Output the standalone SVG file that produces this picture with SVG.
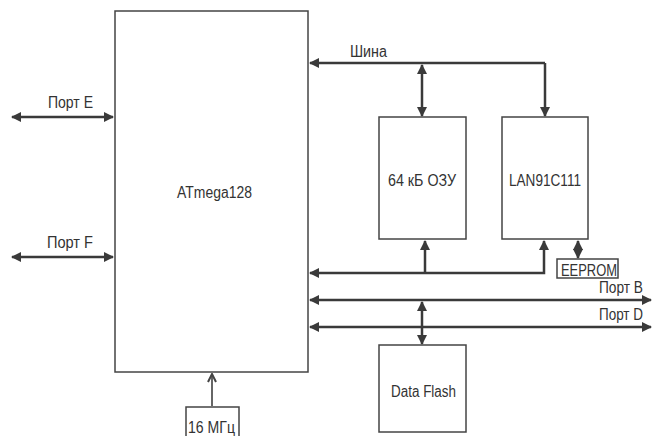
<svg xmlns="http://www.w3.org/2000/svg" width="653" height="436" viewBox="0 0 653 436">
<defs>
<marker id="ah" viewBox="0 0 10 10" refX="9" refY="5" markerWidth="4.2" markerHeight="4" orient="auto-start-reverse" markerUnits="strokeWidth">
<path d="M0,0 L10,5 L0,10 Z" fill="#3a3a3a"/>
</marker>
<marker id="oh" viewBox="0 0 10 10" refX="9" refY="5" markerWidth="10" markerHeight="10" orient="auto" markerUnits="userSpaceOnUse">
<path d="M1,1 L9,5 L1,9" fill="none" stroke="#444" stroke-width="2"/>
</marker>
</defs>
<style>
.box{fill:#fff;stroke:#444;stroke-width:1.5}
.w{fill:none;stroke:#3a3a3a;stroke-width:2.5}
.t{font-family:"Liberation Sans Narrow","Liberation Sans",Arial,sans-serif;font-size:16px;fill:#333}
</style>
<rect width="653" height="436" fill="#fff"/>
<g id="connectors">
<line class="w" x1="545" y1="63" x2="310" y2="63" marker-end="url(#ah)"/>
<line class="w" x1="545" y1="63" x2="545" y2="116" marker-end="url(#ah)"/>
<line class="w" x1="422" y1="65" x2="422" y2="116" marker-start="url(#ah)" marker-end="url(#ah)"/>
<polyline class="w" points="544,241 544,273 310,273" marker-start="url(#ah)" marker-end="url(#ah)"/>
<line class="w" x1="425" y1="273" x2="425" y2="241" marker-end="url(#ah)"/>
<line class="w" x1="578" y1="241" x2="578" y2="258" marker-start="url(#ah)" marker-end="url(#ah)"/>
<line class="w" x1="310" y1="300" x2="651" y2="300" marker-start="url(#ah)" marker-end="url(#ah)"/>
<line class="w" x1="310" y1="327" x2="651" y2="327" marker-start="url(#ah)" marker-end="url(#ah)"/>
<line class="w" x1="422" y1="302" x2="422" y2="344" marker-start="url(#ah)" marker-end="url(#ah)"/>
<line class="w" x1="12" y1="117" x2="113" y2="117" marker-start="url(#ah)" marker-end="url(#ah)"/>
<line class="w" x1="12" y1="257" x2="113" y2="257" marker-start="url(#ah)" marker-end="url(#ah)"/>
<line x1="212" y1="406" x2="212" y2="374" stroke="#666" stroke-width="2" marker-end="url(#oh)"/>
<text class="t" x="350" y="57" textLength="37" lengthAdjust="spacingAndGlyphs">Шина</text>
<text class="t" x="48" y="108" textLength="45" lengthAdjust="spacingAndGlyphs">Порт E</text>
<text class="t" x="47" y="248" textLength="46" lengthAdjust="spacingAndGlyphs">Порт F</text>
<text class="t" x="599" y="293" textLength="44" lengthAdjust="spacingAndGlyphs">Порт B</text>
<text class="t" x="599" y="320" textLength="44" lengthAdjust="spacingAndGlyphs">Порт D</text>
</g>
<g id="atmega">
<rect class="box" x="115" y="11" width="193" height="361"/>
<text class="t" x="177" y="198" textLength="75" lengthAdjust="spacingAndGlyphs">ATmega128</text>
</g>
<g id="ram">
<rect class="box" x="379" y="117" width="87" height="122"/>
<text class="t" x="388" y="186" textLength="68" lengthAdjust="spacingAndGlyphs">64 кБ ОЗУ</text>
</g>
<g id="lan">
<rect class="box" x="502" y="117" width="86" height="122"/>
<text class="t" x="509" y="186" textLength="72" lengthAdjust="spacingAndGlyphs">LAN91C111</text>
</g>
<g id="eeprom">
<rect class="box" x="557" y="259" width="61" height="19"/>
<text class="t" x="561" y="276" textLength="56" lengthAdjust="spacingAndGlyphs">EEPROM</text>
</g>
<g id="dataflash">
<rect class="box" x="379" y="345" width="87" height="87"/>
<text class="t" x="391" y="397" textLength="65" lengthAdjust="spacingAndGlyphs">Data Flash</text>
</g>
<g id="clock">
<path class="box" d="M186,436 V407 H239 V436"/>
<text class="t" x="188" y="433" textLength="47" lengthAdjust="spacingAndGlyphs">16 МГц</text>
</g>
</svg>
